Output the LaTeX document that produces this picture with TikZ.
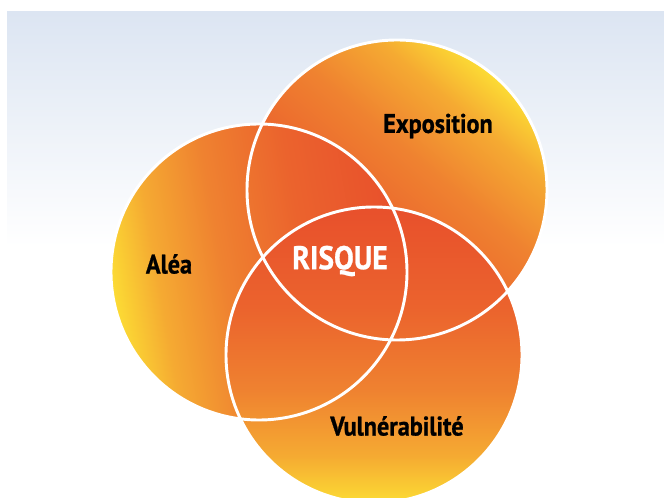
\documentclass[tikz,border=0pt]{standalone}
\usepackage{fontspec}
\newfontfamily\vennfont{PT Sans}[FakeStretch=0.9, FakeBold=0.8]
\definecolor{bgblue}{HTML}{DCE5F2}
\definecolor{vyellow}{HTML}{FCDC34}
\definecolor{vamber}{HTML}{F5AA32}
\definecolor{vorange}{HTML}{EF8230}
\definecolor{vredorange}{HTML}{EB632D}
\definecolor{vred}{HTML}{E8502C}
\pgfdeclareverticalshading{venn}{100bp}{color(0bp)=(vred); color(25bp)=(vred);
  color(42bp)=(vredorange); color(56bp)=(vorange); color(67bp)=(vamber);
  color(75bp)=(vyellow); color(100bp)=(vyellow)}
\tikzset{
  zone/.style={shading=venn},
  rim/.style={draw=white, line width=2.5pt},
  lbl/.style={font=\fontsize{23}{27}\selectfont\vennfont\bfseries, text=black, inner sep=0pt},
  mainlbl/.style={font=\fontsize{28}{33}\selectfont\vennfont\bfseries, text=white, inner sep=0pt}
}
\begin{document}
\begin{tikzpicture}[x=0.03cm, y=0.03cm]
    \useasboundingbox (0,0) rectangle (664,497);

    %background
    \fill[white] (0,0) rectangle (664,497);
    \shade[top color=bgblue, bottom color=white] (7,250) rectangle (664,485);

    %centres
    \coordinate (expo) at (397,307);
    \coordinate (alea) at (259,225);
    \coordinate (vuln) at (374,142);

    %circles (fill)
    \shade[zone, transform canvas={rotate around={-40:(expo)}}] (expo) circle (150);
    \shade[zone, transform canvas={rotate around={100:(alea)}}] (alea) circle (148);
    \shade[zone, transform canvas={rotate around={180:(vuln)}}] (vuln) circle (148);

    %circles (white rims)
    \draw[rim] (expo) circle (150);
    \draw[rim] (alea) circle (148);
    \draw[rim] (vuln) circle (148);

    %labels
    \node[lbl] (expolbl) at (438,371) {Exposition};
    \node[lbl] (alealbl) at (169,233) {Aléa};
    \node[lbl] (vulnlbl) at (397,71) {Vulnérabilité};
    \node[mainlbl] (risque) at (340,236) {RISQUE};
\end{tikzpicture}
\end{document}
